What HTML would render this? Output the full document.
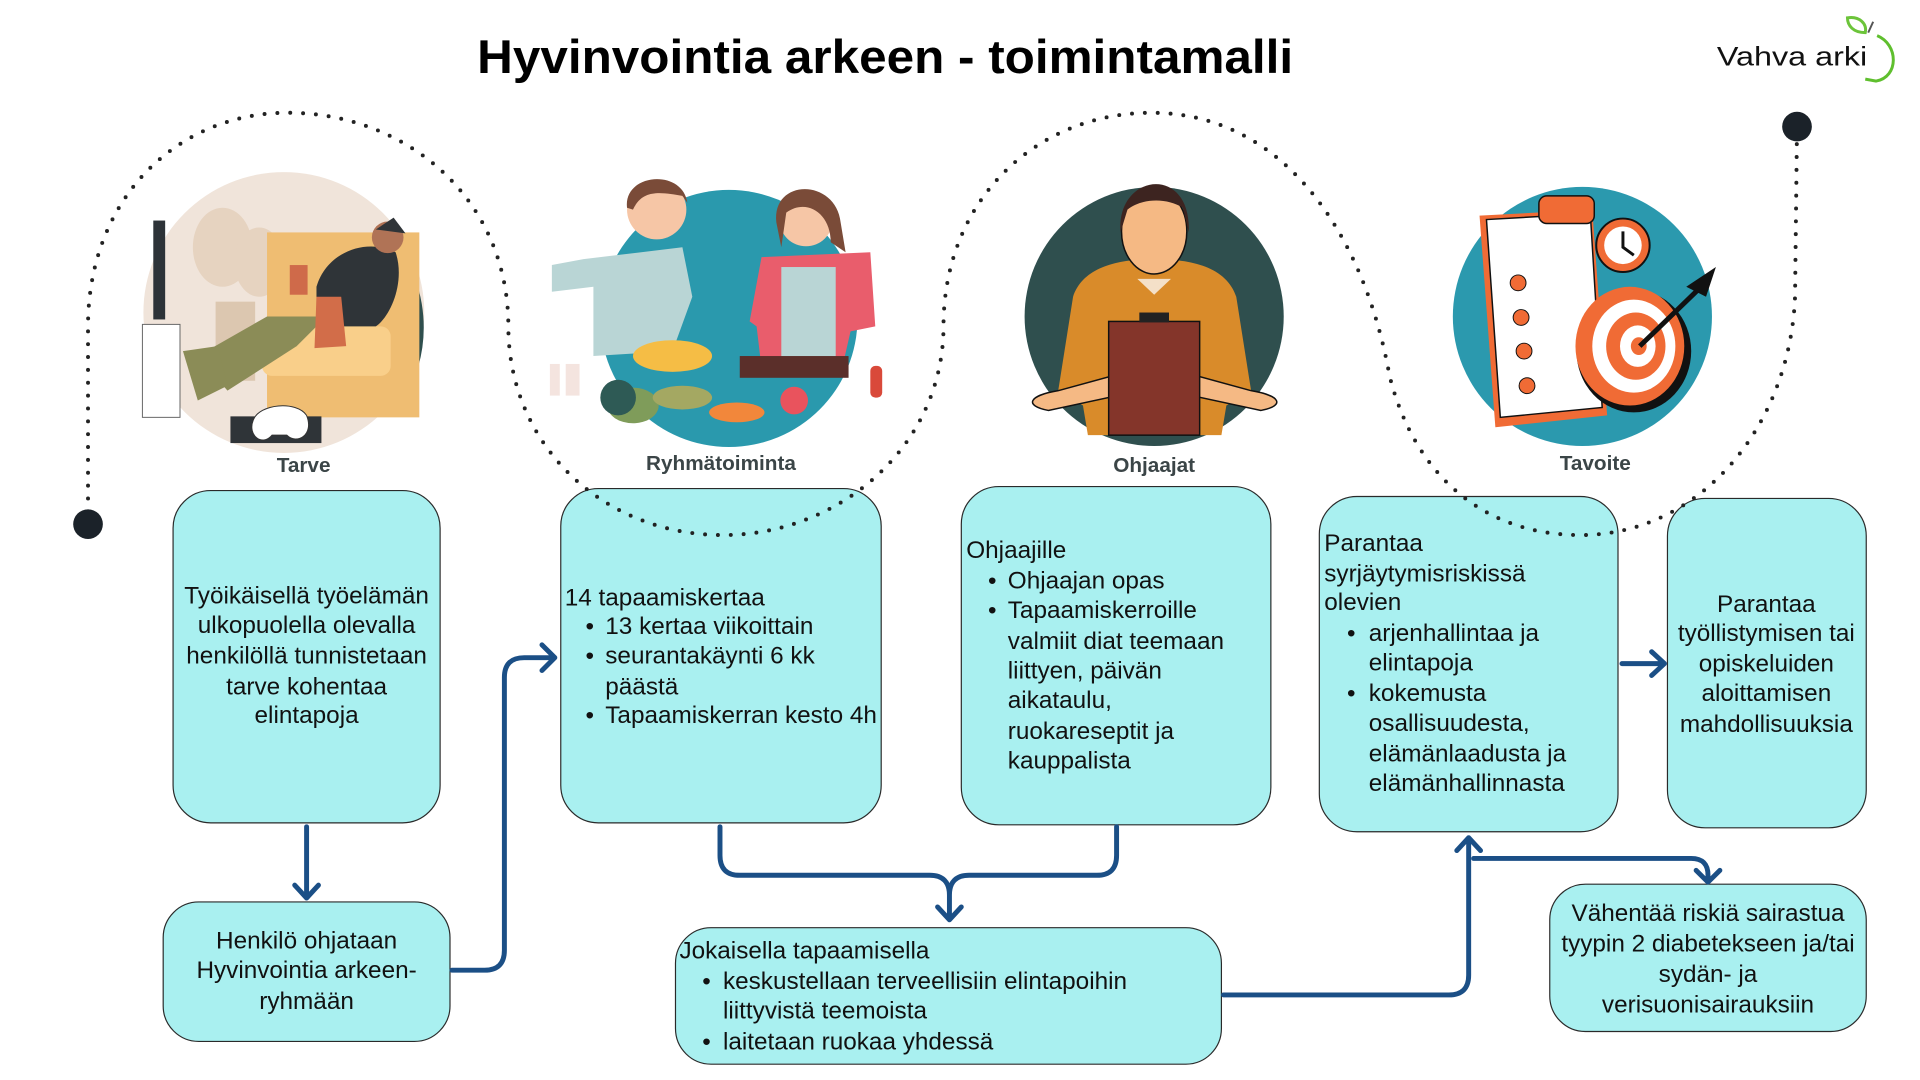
<!DOCTYPE html>
<html><head><meta charset="utf-8"><style>
html,body{margin:0;padding:0;background:#fff;}
svg{display:block;}
text{font-family:"Liberation Sans",Arial,sans-serif;}
.t{font-size:24.6px;fill:#111;}
.lb{font-size:21px;font-weight:bold;fill:#3b4547;}
.box{fill:#a9f0f0;stroke:#2a2a2a;stroke-width:1.2;}
.ar{fill:none;stroke:#1b4f86;stroke-width:5;stroke-linecap:round;stroke-linejoin:round;}
</style></head><body>
<svg width="1920" height="1080" viewBox="0 0 1920 1080" xmlns="http://www.w3.org/2000/svg">
<rect width="1920" height="1080" fill="#fff"/>
<g transform="scale(0.989)">
<!-- title -->
<text x="895" y="74" text-anchor="middle" font-size="48" font-weight="bold" fill="#000" textLength="825" lengthAdjust="spacingAndGlyphs">Hyvinvointia arkeen - toimintamalli</text>
<!-- logo -->
<g transform="translate(22,0)">
<text x="1714" y="66" font-size="27" fill="#111" textLength="152" lengthAdjust="spacingAndGlyphs">Vahva arki</text>
<path d="M1876,36 C1898,45 1898,78 1875,82 L1864,80" fill="none" stroke="#5fbf2e" stroke-width="3"/>
<path d="M1846,18 C1858,16 1866,24 1864,33 C1852,33 1846,26 1846,18 Z" fill="none" stroke="#6cc43a" stroke-width="3"/>
<path d="M1867,33 L1872,22" stroke="#555" stroke-width="2"/>
</g>

<!-- Tarve -->
<circle cx="287" cy="316" r="142" fill="#f0e4da"/>
<path d="M400,250 A142,142 0 0 1 420,370" fill="none" stroke="#2f4f4e" stroke-width="6"/>
<ellipse cx="225" cy="250" rx="30" ry="40" fill="#e6d3c0"/>
<ellipse cx="262" cy="265" rx="25" ry="35" fill="#e6d3c0"/>
<rect x="218" y="305" width="40" height="80" fill="#dcc7b0"/>
<rect x="155" y="223" width="12" height="100" fill="#2d3338"/>
<rect x="144" y="328" width="38" height="94" fill="#fff" stroke="#666"/>
<rect x="270" y="235" width="154" height="187" fill="#efbd72"/>
<rect x="265" y="330" width="130" height="50" fill="#f9cf8a" rx="10"/>
<path d="M320,290 C330,255 370,240 400,255 C410,285 395,320 380,330 L320,330 Z" fill="#2f3438"/>
<circle cx="392" cy="240" r="16" fill="#b07356"/>
<path d="M380,232 L398,220 L410,236 Z" fill="#2f3438"/>
<path d="M200,360 L270,320 L330,320 L300,350 L230,395 Z" fill="#8b8c57"/>
<path d="M185,355 L220,350 L230,390 L200,405 Z" fill="#8b8c57"/>
<rect x="293" y="268" width="18" height="30" fill="#cf6a4a"/>
<path d="M320,300 L345,300 L350,350 L318,352 Z" fill="#d26d49"/>
<rect x="233" y="421" width="92" height="27" fill="#2f3438"/>
<path d="M256,425 C262,408 300,405 310,420 C318,440 300,450 290,440 L275,440 C265,452 250,440 256,425 Z" fill="#fff" stroke="#333"/>

<!-- Ryhmätoiminta -->
<circle cx="737" cy="322" r="130" fill="#2a99ad"/>
<path d="M590,262 L690,250 L700,300 L680,355 L600,360 L600,290 L558,295 L558,268 Z" fill="#b9d5d5"/>
<circle cx="664" cy="212" r="30" fill="#f6c6a6"/>
<path d="M634,210 C630,175 690,170 695,205 L690,198 C670,195 650,190 640,212 Z" fill="#7a4b38"/>
<path d="M770,260 L880,255 L885,330 L860,335 L852,370 L770,372 L765,330 L758,325 Z" fill="#e95d6c"/>
<rect x="790" y="270" width="55" height="100" fill="#b9d5d5"/>
<circle cx="815" cy="222" r="27" fill="#f6c6a6"/>
<path d="M785,225 C780,180 845,180 850,225 L855,255 L840,245 C840,215 815,200 795,215 L790,250 Z" fill="#7a4b38"/>
<ellipse cx="680" cy="360" rx="40" ry="16" fill="#f5bd45"/>
<rect x="748" y="360" width="110" height="22" fill="#5b2f2a"/>
<ellipse cx="640" cy="410" rx="26" ry="18" fill="#7f9c5a"/>
<ellipse cx="690" cy="402" rx="30" ry="12" fill="#a4a862"/>
<ellipse cx="745" cy="417" rx="28" ry="10" fill="#f2873b"/>
<circle cx="803" cy="405" r="14" fill="#e9535d"/>
<circle cx="625" cy="402" r="18" fill="#2e5a55"/>
<rect x="556" y="368" width="10" height="32" fill="#f4e4df"/>
<rect x="572" y="368" width="14" height="32" fill="#f4e4df"/>
<rect x="880" y="370" width="12" height="32" rx="5" fill="#d9493a"/>

<!-- Ohjaajat -->
<circle cx="1167" cy="320" r="131" fill="#2f4f4e"/>
<path d="M1085,300 C1095,270 1130,262 1167,262 C1205,262 1240,270 1250,300 L1265,395 L1240,410 L1235,440 L1100,440 L1095,410 L1070,395 Z" fill="#d98b2a"/>
<path d="M1070,395 C1040,400 1035,410 1060,415 L1130,400 L1125,380 Z" fill="#f5b984" stroke="#111" stroke-width="1.5"/>
<path d="M1265,395 C1295,400 1300,410 1275,415 L1205,400 L1210,380 Z" fill="#f5b984" stroke="#111" stroke-width="1.5"/>
<ellipse cx="1167" cy="234" rx="33" ry="43" fill="#f5b984" stroke="#111" stroke-width="1.5"/>
<path d="M1133,235 C1128,175 1205,165 1202,235 L1196,210 C1180,200 1155,200 1140,212 Z" fill="#3d2420"/>
<path d="M1150,282 L1167,298 L1184,282 Z" fill="#f4e0c8"/>
<rect x="1121" y="325" width="92" height="115" fill="#84352a" stroke="#111" stroke-width="1.5"/>
<rect x="1152" y="316" width="30" height="10" fill="#222"/>

<!-- Tavoite -->
<circle cx="1600" cy="320" r="131" fill="#2b99ae"/>
<path d="M1496,218 L1610,212 L1625,420 L1512,432 Z" fill="#f06b35"/>
<path d="M1503,222 L1608,216 L1620,412 L1517,422 Z" fill="#fff" stroke="#111" stroke-width="1.5"/>
<rect x="1556" y="198" width="56" height="28" rx="8" fill="#f06b35" stroke="#111" stroke-width="1.5"/>
<circle cx="1641" cy="248" r="27" fill="#f06b35" stroke="#111" stroke-width="2"/>
<circle cx="1641" cy="248" r="19" fill="#fff"/>
<path d="M1641,234 L1641,250 L1652,258" stroke="#111" stroke-width="3" fill="none"/>
<circle cx="1535" cy="286" r="8" fill="#f06b35" stroke="#111"/>
<circle cx="1538" cy="321" r="8" fill="#f06b35" stroke="#111"/>
<circle cx="1541" cy="355" r="8" fill="#f06b35" stroke="#111"/>
<circle cx="1544" cy="390" r="8" fill="#f06b35" stroke="#111"/>
<ellipse cx="1652" cy="355" rx="58" ry="62" fill="#111"/>
<ellipse cx="1648" cy="350" rx="55" ry="60" fill="#f06b35"/>
<ellipse cx="1652" cy="350" rx="42" ry="47" fill="#fff"/>
<ellipse cx="1654" cy="350" rx="30" ry="34" fill="#f06b35"/>
<ellipse cx="1656" cy="350" rx="18" ry="21" fill="#fff"/>
<ellipse cx="1657" cy="350" rx="8" ry="9" fill="#f06b35"/>
<path d="M1658,350 L1720,290" stroke="#111" stroke-width="5"/>
<path d="M1705,290 L1735,270 L1725,300 Z" fill="#111"/>

<!-- labels -->
<text class="lb" x="307" y="477" text-anchor="middle">Tarve</text>
<text class="lb" x="729" y="475" text-anchor="middle">Ryhmätoiminta</text>
<text class="lb" x="1167" y="477" text-anchor="middle">Ohjaajat</text>
<text class="lb" x="1613" y="475" text-anchor="middle">Tavoite</text>

<!-- boxes -->
<rect class="box" x="175" y="496" width="270" height="336" rx="38"/>
<rect class="box" x="165" y="912" width="290" height="141" rx="36"/>
<rect class="box" x="567" y="494" width="324" height="338" rx="38"/>
<rect class="box" x="683" y="938" width="552" height="138" rx="36"/>
<rect class="box" x="972" y="492" width="313" height="342" rx="38"/>
<rect class="box" x="1334" y="502" width="302" height="339" rx="38"/>
<rect class="box" x="1686" y="504" width="201" height="333" rx="38"/>
<rect class="box" x="1567" y="894" width="320" height="149" rx="36"/>

<!-- dotted path -->
<path d="M89,530 L89,330 C89,200 180,114 291,114 C410,114 514,200 514,330 C514,450 610,541 731,541 C850,541 954,450 954,330 C954,200 1050,114 1164,114 C1300,114 1380,240 1405,380 C1430,480 1500,541 1598,541 C1720,541 1810,430 1815,300 L1817,128" fill="none" stroke="#222" stroke-width="4" stroke-linecap="round" stroke-dasharray="0 13"/>
<circle cx="89" cy="530" r="15" fill="#1b2229"/>
<circle cx="1817" cy="128" r="15" fill="#1b2229"/>

<!-- text -->
<g class="t" text-anchor="middle">
<text x="310" y="610">Työikäisellä työelämän</text>
<text x="310" y="640">ulkopuolella olevalla</text>
<text x="310" y="671">henkilöllä tunnistetaan</text>
<text x="310" y="702">tarve kohentaa</text>
<text x="310" y="731">elintapoja</text>
<text x="310" y="959">Henkilö ohjataan</text>
<text x="310" y="989">Hyvinvointia arkeen-</text>
<text x="310" y="1020">ryhmään</text>
<text x="1786" y="619">Parantaa</text>
<text x="1786" y="648">työllistymisen tai</text>
<text x="1786" y="679">opiskeluiden</text>
<text x="1786" y="709">aloittamisen</text>
<text x="1786" y="740">mahdollisuuksia</text>
<text x="1727" y="931">Vähentää riskiä sairastua</text>
<text x="1727" y="962">tyypin 2 diabetekseen ja/tai</text>
<text x="1727" y="993">sydän- ja</text>
<text x="1727" y="1024">verisuonisairauksiin</text>
</g>
<g class="t">
<text x="571" y="612">14 tapaamiskertaa</text>
<text x="592" y="641">•</text><text x="612" y="641">13 kertaa viikoittain</text>
<text x="592" y="671">•</text><text x="612" y="671">seurantakäynti 6 kk</text>
<text x="612" y="702">päästä</text>
<text x="592" y="731">•</text><text x="612" y="731">Tapaamiskerran kesto 4h</text>

<text x="977" y="564">Ohjaajille</text>
<text x="999" y="595">•</text><text x="1019" y="595">Ohjaajan opas</text>
<text x="999" y="625">•</text><text x="1019" y="625">Tapaamiskerroille</text>
<text x="1019" y="656">valmiit diat teemaan</text>
<text x="1019" y="686">liittyen, päivän</text>
<text x="1019" y="716">aikataulu,</text>
<text x="1019" y="747">ruokareseptit ja</text>
<text x="1019" y="777">kauppalista</text>

<text x="1339" y="557">Parantaa</text>
<text x="1339" y="588">syrjäytymisriskissä</text>
<text x="1339" y="617">olevien</text>
<text x="1362" y="648">•</text><text x="1384" y="648">arjenhallintaa ja</text>
<text x="1384" y="678">elintapoja</text>
<text x="1362" y="709">•</text><text x="1384" y="709">kokemusta</text>
<text x="1384" y="739">osallisuudesta,</text>
<text x="1384" y="770">elämänlaadusta ja</text>
<text x="1384" y="800">elämänhallinnasta</text>

<text x="687" y="969">Jokaisella tapaamisella</text>
<text x="710" y="1000">•</text><text x="731" y="1000">keskustellaan terveellisiin elintapoihin</text>
<text x="731" y="1030">liittyvistä teemoista</text>
<text x="710" y="1061">•</text><text x="731" y="1061">laitetaan ruokaa yhdessä</text>
</g>

<!-- arrows -->
<path class="ar" d="M310,836 V908 M298,895 L310,908 L322,895"/>
<path class="ar" d="M457,981 H490 Q510,981 510,961 V685 Q510,665 530,665 H560 M548,652 L561,665 L548,678"/>
<path class="ar" d="M728,836 V865 Q728,885 748,885 H940 Q960,885 960,905 V930 M1129,836 V865 Q1129,885 1109,885 H980 Q960,885 960,905 M948,917 L960,930 L972,917"/>
<path class="ar" d="M1237,1006 H1465 Q1485,1006 1485,986 V847 M1473,860 L1485,847 L1497,860"/>
<path class="ar" d="M1490,868 H1710 Q1727,868 1727,885 V892 M1715,880 L1727,892 L1739,880"/>
<path class="ar" d="M1640,671 H1682 M1670,659 L1683,671 L1670,683"/>
</g>
</svg>
</body></html>
